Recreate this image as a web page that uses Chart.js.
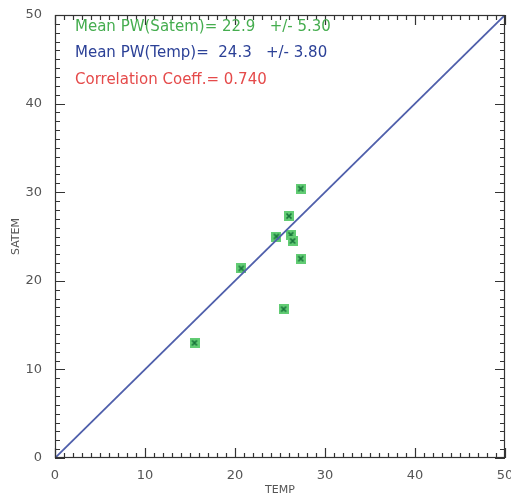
<!DOCTYPE html>
<html>
<head>
<meta charset="utf-8">
<script src="https://cdn.jsdelivr.net/npm/chart.js@4.4.1/dist/chart.umd.min.js"></script>
<style>
  html, body { margin: 0; padding: 0; background: #fff; }
  #wrap { width: 511px; height: 497px; }
</style>
</head>
<body>
<div id="wrap"><canvas id="c" width="511" height="497"></canvas></div>
<script>
// TEMP (x) vs SATEM (y) precipitable water
const tempValues = [15.5, 20.7, 24.6, 26.0, 26.2, 26.4, 27.3, 27.3, 25.4]
const satemValues = [13.0, 21.4, 25.0, 27.3, 25.2, 24.5, 30.4, 22.5, 16.8]
const oneToOne = [0, 50]
const axisTicks = [0, 10, 20, 30, 40, 50]
const statLines = [
    'Mean PW(Satem)= 22.9   +/- 5.30',
    'Mean PW(Temp)=  24.3   +/- 3.80',
    'Correlation Coeff.= 0.740'
]
const statColors = ['#45ad4f', '#2c4197', '#e54a4a']

// green square with a cross, like the IDL symbol
function makeMarker() {
    const cv = document.createElement('canvas')
    cv.width = 10
    cv.height = 10
    const g = cv.getContext('2d')
    g.fillStyle = '#62cc74'
    g.fillRect(0, 0, 10, 10)
    g.strokeStyle = '#17733a'
    g.lineWidth = 1.7
    g.beginPath()
    g.moveTo(2.5, 2.5); g.lineTo(7.5, 7.5)
    g.moveTo(7.5, 2.5); g.lineTo(2.5, 7.5)
    g.stroke()
    return cv
}

// inward major/minor ticks on all four sides + frame + stat text
const idlFrame = {
    id: 'idlFrame',
    afterDraw(chart) {
        const ctx = chart.ctx
        const a = chart.chartArea
        const xs = chart.scales.x
        const ys = chart.scales.y
        ctx.save()
        ctx.strokeStyle = '#333'
        ctx.lineWidth = 1.2
        ctx.strokeRect(a.left + 0.5, a.top + 0.5, a.right - a.left - 1, a.bottom - a.top - 1)
        ctx.beginPath()
        for (let v = xs.min; v <= xs.max; v++) {
            const px = Math.round(xs.getPixelForValue(v)) + 0.5
            const len = v % 10 === 0 ? 10 : 5
            ctx.moveTo(px, a.bottom); ctx.lineTo(px, a.bottom - len)
            ctx.moveTo(px, a.top); ctx.lineTo(px, a.top + len)
        }
        for (let v = ys.min; v <= ys.max; v++) {
            const py = Math.round(ys.getPixelForValue(v)) + 0.5
            const len = v % 10 === 0 ? 10 : 5
            ctx.moveTo(a.left, py); ctx.lineTo(a.left + len, py)
            ctx.moveTo(a.right, py); ctx.lineTo(a.right - len, py)
        }
        ctx.stroke()

        ctx.font = '15px "DejaVu Sans"'
        ctx.textBaseline = 'middle'
        statLines.forEach((t, i) => {
            ctx.fillStyle = statColors[i]
            ctx.fillText(t, a.left + 20, a.top + 12 + i * 26.5)
        })
        ctx.restore()
    }
}

const scatterData = tempValues.map((x, i) => ({ x, y: satemValues[i] }))
const lineData = oneToOne.map(v => ({ x: v, y: v }))

new Chart(document.getElementById('c'), {
    type: 'scatter',
    data: {
        datasets: [
            {
                type: 'line',
                data: lineData,
                borderColor: '#4f5fab',
                borderWidth: 1.8,
                pointRadius: 0,
                fill: false
            },
            {
                data: scatterData,
                pointStyle: makeMarker(),
                pointRadius: 5
            }
        ]
    },
    options: {
        responsive: false,
        animation: false,
        layout: { padding: { top: 15, right: 4, left: 0, bottom: 0 } },
        plugins: { legend: { display: false }, tooltip: { enabled: false } },
        scales: {
            x: {
                type: 'linear',
                min: 0,
                max: 50,
                afterBuildTicks: s => { s.ticks = axisTicks.map(v => ({ value: v })) },
                afterFit: s => { s.height = 39; s.paddingLeft = 0; s.paddingRight = 0 },
                grid: { display: false },
                border: { display: false },
                ticks: { color: '#555', font: { family: 'DejaVu Sans', size: 13 }, padding: 2, maxRotation: 0 },
                title: { display: true, text: 'TEMP', color: '#555', font: { family: 'DejaVu Sans', size: 11 }, padding: { top: 0, bottom: 0 } }
            },
            y: {
                type: 'linear',
                min: 0,
                max: 50,
                afterBuildTicks: s => { s.ticks = axisTicks.map(v => ({ value: v })) },
                afterFit: s => { s.width = 55; s.paddingTop = 0; s.paddingBottom = 0 },
                grid: { display: false },
                border: { display: false },
                ticks: { color: '#555', font: { family: 'DejaVu Sans', size: 13 }, padding: 5 },
                title: { display: true, text: 'SATEM', color: '#555', font: { family: 'DejaVu Sans', size: 11 }, padding: { top: 10, bottom: 0 } }
            }
        }
    },
    plugins: [idlFrame]
})
</script>
</body>
</html>
